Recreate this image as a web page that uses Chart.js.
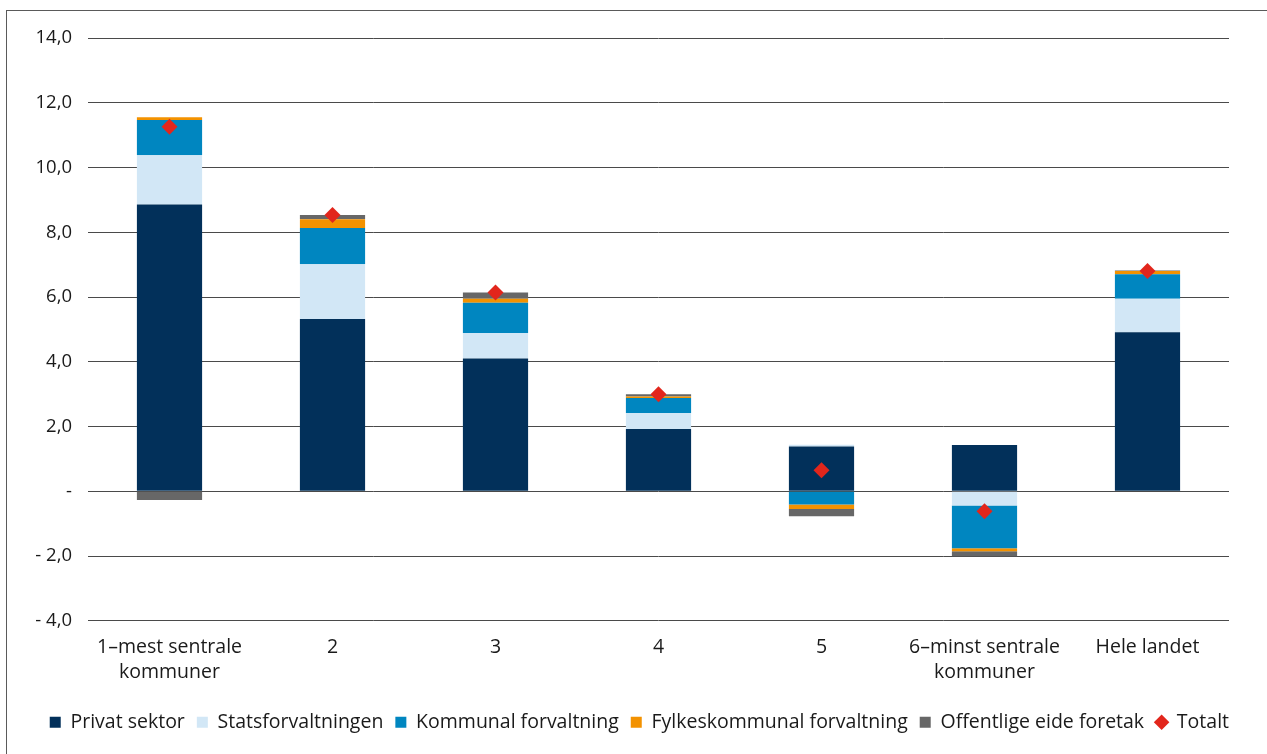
<!DOCTYPE html>
<html>
<head>
<meta charset="utf-8">
<script src="https://cdn.jsdelivr.net/npm/chart.js@4.4.0/dist/chart.umd.min.js"></script>
<style>
html,body{margin:0;padding:0;background:#fff;overflow:hidden}
#frame{position:absolute;left:6px;top:10px;width:1300px;height:800px;border:1.5px solid #5a5a5a}
#wrap{position:absolute;left:0;top:0;width:1267px;height:754px}
</style>
</head>
<body>
<div id="frame"></div>
<div id="wrap"><canvas id="c"></canvas></div>
<script>
// categories and series (percent change)
const categories=[['1–mest sentrale','kommuner'],'2','3','4','5',['6–minst sentrale','kommuner'],'Hele landet'];
const privat=[8.86,5.32,4.10,1.92,1.38,1.43,4.91];
const stat=[1.52,1.69,0.79,0.50,0.06,-0.44,1.04];
const kommunal=[1.09,1.12,0.93,0.46,-0.41,-1.32,0.75];
const fylke=[0.08,0.27,0.13,0.05,-0.14,-0.09,0.10];
const offentlige=[-0.27,0.13,0.19,0.07,-0.22,-0.16,0.02];
const totalt=[11.26,8.53,6.14,3.00,0.65,-0.62,6.80];
const yTicks={min:-4,max:14,step:2};

const FONT="'Open Sans', sans-serif";
Chart.defaults.font.family=FONT;
Chart.defaults.color='#1a1a1a';

const bar=(label,data,color)=>({type:'bar',label,data,backgroundColor:color,borderWidth:0,
  barPercentage:0.8,categoryPercentage:0.5,order:1,pointStyle:'rect'});

const fmt=v=>{
  if(Math.abs(v)<1e-9)return '-';
  const s=Math.abs(v).toFixed(1).replace('.',',');
  return v<0?'- '+s:s;
};

// nudge legend a bit to the right, flush with the plot edge
const legendShift={id:'legendShift',afterLayout(chart){
  const lg=chart.legend;if(!lg)return;lg.left+=12;lg.right+=12;
}};

new Chart(document.getElementById('c'),{
  data:{labels:categories,datasets:[
    bar('Privat sektor',privat,'#02305a'),
    bar('Statsforvaltningen',stat,'#d2e7f6'),
    bar('Kommunal forvaltning',kommunal,'#0086c0'),
    bar('Fylkeskommunal forvaltning',fylke,'#f39200'),
    bar('Offentlige eide foretak',offentlige,'#676767'),
    {type:'line',label:'Totalt',data:totalt,showLine:false,stack:'total',order:0,
     pointStyle:'rectRot',pointRadius:8,pointHoverRadius:8,
     pointBackgroundColor:'#e2261c',pointBorderWidth:0,borderColor:'#e2261c',backgroundColor:'#e2261c'}
  ]},
  plugins:[legendShift],
  options:{
    responsive:true,maintainAspectRatio:false,animation:false,
    layout:{padding:{left:0,right:38,top:38,bottom:12}},
    plugins:{
      tooltip:{enabled:false},
      legend:{position:'bottom',align:'end',
        labels:{usePointStyle:true,boxWidth:11,boxHeight:11,padding:12,color:'#1a1a1a',
          font:{size:19.5},sort:(a,b)=>a.datasetIndex-b.datasetIndex}}
    },
    scales:{
      x:{stacked:true,grid:{display:false},border:{display:false},
        afterFit:s=>{s.height+=9;},
        ticks:{color:'#1a1a1a',font:{size:19.5,lineHeight:1.3},padding:6,maxRotation:0}},
      y:{stacked:true,min:yTicks.min,max:yTicks.max,
        afterFit:s=>{s.width=88;},
        grid:{color:'#4a4a4a',lineWidth:1,drawTicks:false},
        border:{display:false},
        ticks:{stepSize:yTicks.step,padding:16,color:'#1a1a1a',font:{size:18.5},callback:v=>fmt(v)}}
    }
  }
});
</script>
</body>
</html>
